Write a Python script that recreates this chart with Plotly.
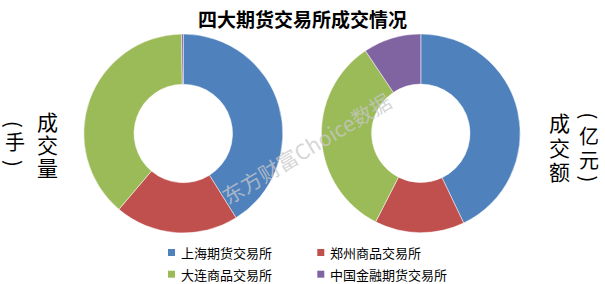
import plotly.graph_objects as go

# ---- data ----
categories = ['上海期货交易所', '郑州商品交易所', '大连商品交易所', '中国金融期货交易所']
volume_share = [41.1, 20.1, 38.5, 0.3]      # 成交量（手）占比
turnover_share = [42.9, 14.6, 33.1, 9.4]    # 成交额（亿元）占比
colors = ['#4F81BD', '#C0504D', '#9BBB59', '#8064A2']
title_text = '四大期货交易所成交情况'
left_label = ['成', '交', '量']
left_unit = ['(', '手', ')']
right_label = ['成', '交', '额']
right_unit = ['(', '亿', '元', ')']
watermark = '东方财富Choice数据'

W, H = 605, 284
FONT = 'Noto Sans CJK SC'

def px_x(v):
    return v / W

def px_y(v):
    return 1 - v / H

fig = go.Figure()

def add_donut(values, cx, cy, r):
    fig.add_trace(go.Pie(
        labels=categories, values=values, sort=False, direction='clockwise',
        rotation=0, hole=0.495, textinfo='none', showlegend=False,
        marker=dict(colors=colors, line=dict(color='rgba(255,255,255,0.8)', width=0.6)),
        domain=dict(x=[px_x(cx - r), px_x(cx + r)], y=[px_y(cy + r), px_y(cy - r)]),
    ))

add_donut(volume_share, 183.3, 133.5, 99.5)
add_donut(turnover_share, 420.8, 133.3, 99.4)

annotations = []
# title
annotations.append(dict(text='<b>' + title_text + '</b>', x=0.5, y=px_y(18.3), xref='paper', yref='paper',
                        xanchor='center', yanchor='middle', showarrow=False,
                        font=dict(family=FONT, size=19, color='#000000')))

def vcol(chars, x, ys, size):
    for ch, y in zip(chars, ys):
        rot = 90 if ch in '()' else 0
        annotations.append(dict(text=ch, x=px_x(x), y=px_y(y), xref='paper', yref='paper',
                                xanchor='center', yanchor='middle', showarrow=False,
                                textangle=rot,
                                font=dict(family=FONT, size=size, color='#000000')))

vcol(left_label, 47, [121, 144, 167], 21)
vcol(left_unit, 14.5, [124.5, 141.7, 163.5], 20)
vcol(right_label, 559, [122.5, 146.5, 171], 21)
vcol(right_unit, 589, [115.5, 135.5, 159, 178.5], 20)

# watermark
annotations.append(dict(text=watermark, x=px_x(306), y=px_y(148), xref='paper', yref='paper',
                        xanchor='center', yanchor='middle', showarrow=False, textangle=-31,
                        font=dict(family=FONT, size=21, color='rgba(200,200,200,0.75)')))

# legend (manual, 2 x 2)
shapes = []
for i, (name, col) in enumerate(zip(categories, colors)):
    r, c = divmod(i, 2)
    sx = 168 + c * 149.3
    sy = 252.5 + r * 21.7
    shapes.append(dict(type='rect', xref='paper', yref='paper',
                       x0=px_x(sx), x1=px_x(sx + 7), y0=px_y(sy - 3.5), y1=px_y(sy + 3.5),
                       fillcolor=col, line=dict(width=0)))
    annotations.append(dict(text=name, x=px_x(sx + 11), y=px_y(sy), xref='paper', yref='paper',
                            xanchor='left', yanchor='middle', showarrow=False,
                            font=dict(family=FONT, size=13, color='#000000')))

fig.update_layout(
    width=W, height=H, margin=dict(l=0, r=0, t=0, b=0),
    paper_bgcolor='white', plot_bgcolor='white',
    annotations=annotations, shapes=shapes,
)

fig.write_html('out.html')
